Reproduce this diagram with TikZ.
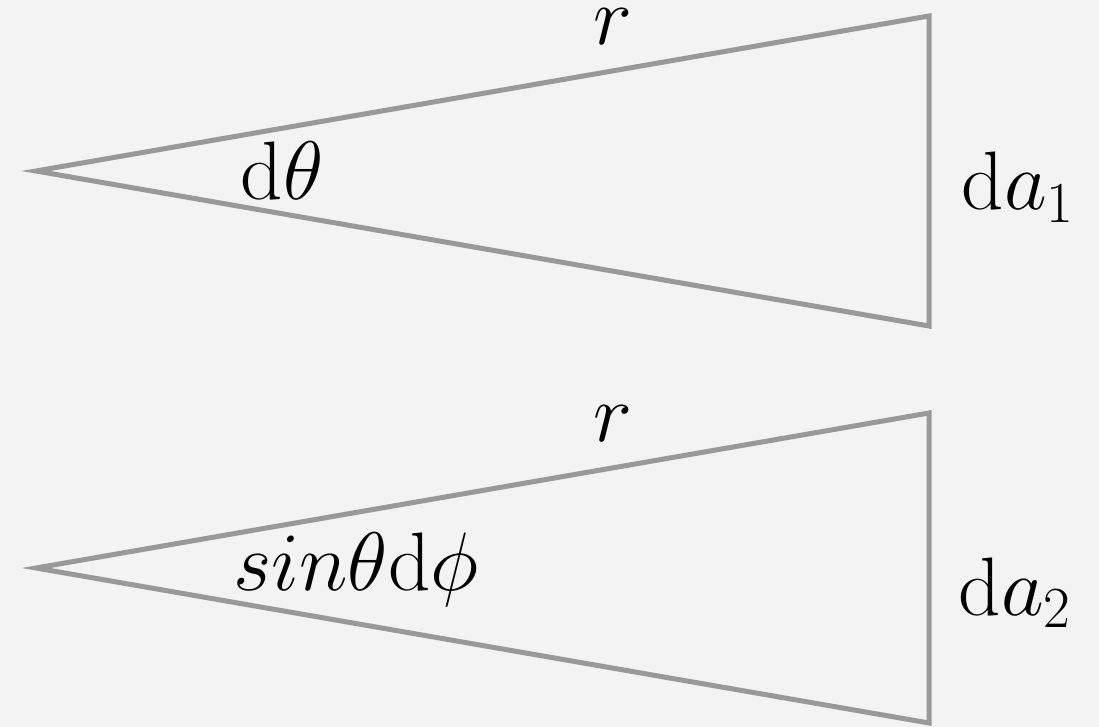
\RequirePackage{fix-cm}
\documentclass[tikz,border=0pt]{standalone}
\usepackage{amsmath}
\usepackage{amssymb}
\usepackage{tikz}
\usepackage{xcolor}
\definecolor{edgegray}{HTML}{999999}
\definecolor{bggray}{HTML}{F3F3F3}

\begin{document}
\begin{tikzpicture}[x=0.5pt,y=-0.5pt,
  side/.style={draw=edgegray,line width=2.5pt},
  lbl/.style={inner sep=0pt,anchor=base,font=\fontsize{41.5}{50}\selectfont}]
\fill[bggray] (0,0) rectangle (1099,727);
\useasboundingbox (0,0) rectangle (1099,727);
\coordinate (apexA) at (36,171);
\coordinate (topA) at (929,16);
\coordinate (botA) at (929,326);
\coordinate (apexB) at (36,568);
\coordinate (topB) at (929,413);
\coordinate (botB) at (929,723);
\draw[side] (apexA)--(topA)--(botA)--cycle;
\draw[side] (apexB)--(topB)--(botB)--cycle;
\node[lbl] (rA) at (613,45) {$r$};
\node[lbl] (angA) at (282,200) {$\mathrm{d}\theta$};
\node[lbl] (areaA) at (1018,210) {$\mathrm{d}a_1$};
\node[lbl] (rB) at (613,442) {$r$};
\node[lbl] (angB) at (356,590) {$sin\theta\mathrm{d}\phi$};
\node[lbl] (areaB) at (1015,615) {$\mathrm{d}a_2$};
\end{tikzpicture}
\end{document}
